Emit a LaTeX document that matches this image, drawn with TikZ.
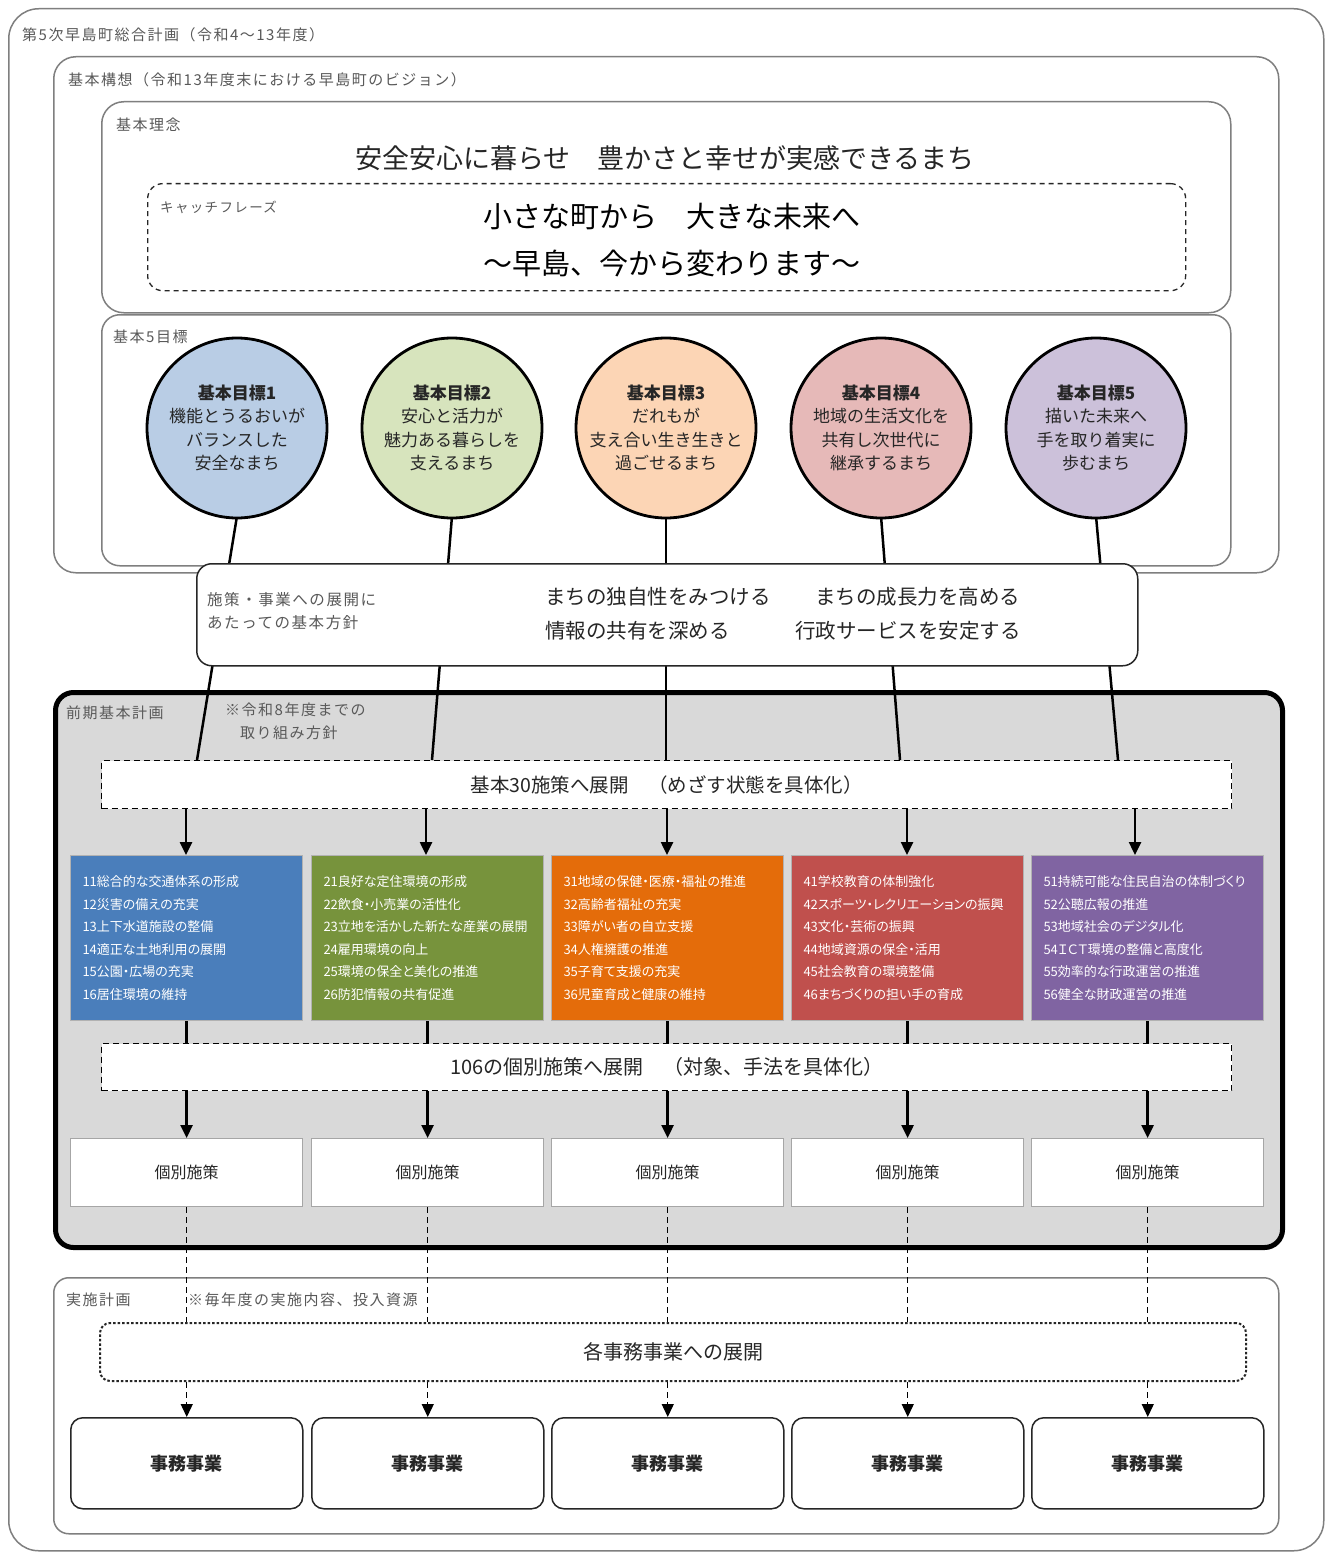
\documentclass[tikz,border=0pt]{standalone}
\usepackage{fontspec}
\setmainfont{Noto Sans CJK JP}
\newfontfamily\lblfont{Noto Sans CJK JP}[LetterSpace=10]
\newfontfamily\pfont{Noto Sans CJK JP}[CharacterWidth=AlternateProportional]
\usetikzlibrary{arrows.meta,calc}
\definecolor{framegray}{HTML}{7F7F7F}
\definecolor{lblgray}{HTML}{595959}
\definecolor{darkt}{HTML}{262626}
\definecolor{cblue}{HTML}{B9CDE5}
\definecolor{cgreen}{HTML}{D7E4BD}
\definecolor{corange}{HTML}{FCD5B5}
\definecolor{cred}{HTML}{E6B9B8}
\definecolor{cpurple}{HTML}{CCC1DA}
\definecolor{bblue}{HTML}{4A7EBB}
\definecolor{bgreen}{HTML}{77933C}
\definecolor{borange}{HTML}{E46C0A}
\definecolor{bred}{HTML}{C0504D}
\definecolor{bpurple}{HTML}{8064A2}
\definecolor{kgray}{HTML}{D9D9D9}
\begin{document}
\begin{tikzpicture}[x=1pt,y=-1pt,
  frame/.style={draw=framegray, line width=1.5pt, fill=white, inner sep=0pt, anchor=north west},
  lbl/.style={text=lblgray, font=\lblfont\fontsize{15}{17}\selectfont, anchor=west, inner sep=0pt},
  goal/.style={circle, draw=black, line width=2.8pt, minimum size=180pt, inner sep=0pt, align=center, font=\fontsize{17}{23.5}\selectfont, text=darkt},
  conn/.style={line width=2.5pt, draw=black},
  arr/.style={line width=2.5pt, draw=black, -{Triangle[length=13pt,width=12pt]}},
  dbox/.style={draw=black, dash pattern=on 6pt off 4pt, line width=1.3pt, fill=white, inner sep=0pt, anchor=north west, minimum width=1130pt, minimum height=48pt, text=darkt, font=\fontsize{19.5}{21}\selectfont},
  cbox/.style={draw=gray!60, line width=1pt, minimum width=232pt, minimum height=165pt, anchor=north west, text width=208pt, align=left, inner xsep=12pt, inner ysep=0pt, text=white, font=\pfont\fontsize{13}{22.5}\selectfont},
  kbox/.style={draw=gray!70, line width=1.2pt, fill=white, minimum width=232pt, minimum height=68pt, anchor=north west, inner sep=0pt, text=darkt, font=\fontsize{16}{18}\selectfont},
  jbox/.style={draw=darkt, line width=1.5pt, fill=white, rounded corners=12pt, minimum width=232pt, minimum height=91pt, anchor=north west, inner sep=0pt, text=darkt, font=\bfseries\fontsize{18}{20}\selectfont},
  dline/.style={line width=1.3pt, draw=black, dash pattern=on 6pt off 4pt},
  darr/.style={line width=1.3pt, draw=black, dash pattern=on 6pt off 4pt, -{Triangle[length=13pt,width=12pt]}},
  bandtxt/.style={text=darkt, font=\fontsize{20.5}{22}\selectfont, anchor=west, inner sep=0pt}
]
\useasboundingbox (0,0) rectangle (1330,1554);
\fill[white] (0,0) rectangle (1330,1554);

% outer frames
\node[frame, rounded corners=30pt, minimum width=1315pt, minimum height=1542pt] (outer) at (8,8) {};
\node[lbl] (outerT) at (22,35) {第5次早島町総合計画（令和4～13年度）};
\node[frame, rounded corners=22pt, minimum width=1225pt, minimum height=516pt] (kousou) at (53,56) {};
\node[lbl] (kousouT) at (68,80) {基本構想（令和13年度末における早島町のビジョン）};
\node[frame, rounded corners=22pt, minimum width=1129pt, minimum height=211pt] (rinen) at (101,101) {};
\node[lbl] (rinenT) at (116,125) {基本理念};
\node[text=darkt, font=\fontsize{27}{29}\selectfont, inner sep=0pt] (rinenM) at (665,158) {安全安心に暮らせ　豊かさと幸せが実感できるまち};
\node[frame, draw=darkt, dash pattern=on 5pt off 4pt, line width=1.3pt, rounded corners=15pt, minimum width=1038pt, minimum height=107pt] (catch) at (147,183) {};
\node[lbl, font=\lblfont\fontsize{13.5}{15}\selectfont] (catchT) at (160,207) {キャッチフレーズ};
\node[text=black, font=\fontsize{29}{31}\selectfont, inner sep=0pt] (catch1) at (672,216) {小さな町から　大きな未来へ};
\node[text=black, font=\fontsize{29}{31}\selectfont, inner sep=0pt] (catch2) at (672,263) {～早島、今から変わります～};
\node[frame, rounded corners=18pt, minimum width=1129pt, minimum height=251pt] (mokuhyo) at (101,314) {};
\node[lbl] (mokuhyoT) at (113,337) {基本5目標};

% plan box
\node[frame, draw=black, line width=5pt, rounded corners=18pt, fill=kgray, minimum width=1227pt, minimum height=555pt] (plan) at (53,690) {};
\node[lbl] (planT) at (66,713) {前期基本計画};
\node[lbl, align=left, anchor=north west, font=\lblfont\fontsize{15}{23}\selectfont] (planN) at (225,703) {※令和8年度までの\\\hspace{1em}取り組み方針};

% connector end points on the 30 box
\coordinate (t1) at (197,760);
\coordinate (t2) at (432,760);
\coordinate (t3) at (666,760);
\coordinate (t4) at (900,760);
\coordinate (t5) at (1118,760);

% circle positions
\coordinate (p1) at (237,428);
\coordinate (p2) at (452,428);
\coordinate (p3) at (666,428);
\coordinate (p4) at (881,428);
\coordinate (p5) at (1096,428);

\draw[conn] ($(p1)+(0,88)$) coordinate (s1) -- (t1);
\draw[conn] ($(p2)+(0,88)$) coordinate (s2) -- (t2);
\draw[conn] ($(p3)+(0,88)$) coordinate (s3) -- (t3);
\draw[conn] ($(p4)+(0,88)$) coordinate (s4) -- (t4);
\draw[conn] ($(p5)+(0,88)$) coordinate (s5) -- (t5);

\node[goal, fill=cblue] (c1) at (p1) {\textbf{基本目標1}\\機能とうるおいが\\バランスした\\安全なまち};
\node[goal, fill=cgreen] (c2) at (p2) {\textbf{基本目標2}\\安心と活力が\\魅力ある暮らしを\\支えるまち};
\node[goal, fill=corange] (c3) at (p3) {\textbf{基本目標3}\\だれもが\\支え合い生き生きと\\過ごせるまち};
\node[goal, fill=cred] (c4) at (p4) {\textbf{基本目標4}\\地域の生活文化を\\共有し次世代に\\継承するまち};
\node[goal, fill=cpurple] (c5) at (p5) {\textbf{基本目標5}\\描いた未来へ\\手を取り着実に\\歩むまち};

% band
\node[frame, draw=darkt, line width=1.5pt, rounded corners=15pt, minimum width=941pt, minimum height=102pt] (band) at (196,563) {};
\node[lbl, align=left, anchor=north west, font=\lblfont\fontsize{15.5}{23}\selectfont] (bandL) at (207,592) {施策・事業への展開に\\あたっての基本方針};
\node[bandtxt] (b1) at (545,597) {まちの独自性をみつける};
\node[bandtxt] (b2) at (545,631) {情報の共有を深める};
\node[bandtxt] (b3) at (815,597) {まちの成長力を高める};
\node[bandtxt] (b4) at (795,631) {行政サービスを安定する};

% 30 box
\node[dbox] (d30) at (101,760) {基本30施策へ展開　（めざす状態を具体化）};

% colored boxes
\node[cbox, fill=bblue] (g1) at (70,855) {11総合的な交通体系の形成\\12災害の備えの充実\\13上下水道施設の整備\\14適正な土地利用の展開\\15公園・広場の充実\\16居住環境の維持};
\node[cbox, fill=bgreen] (g2) at (311,855) {21良好な定住環境の形成\\22飲食・小売業の活性化\\23立地を活かした新たな産業の展開\\24雇用環境の向上\\25環境の保全と美化の推進\\26防犯情報の共有促進};
\node[cbox, fill=borange] (g3) at (551,855) {31地域の保健・医療・福祉の推進\\32高齢者福祉の充実\\33障がい者の自立支援\\34人権擁護の推進\\35子育て支援の充実\\36児童育成と健康の維持};
\node[cbox, fill=bred] (g4) at (791,855) {41学校教育の体制強化\\42スポーツ・レクリエーションの振興\\43文化・芸術の振興\\44地域資源の保全・活用\\45社会教育の環境整備\\46まちづくりの担い手の育成};
\node[cbox, fill=bpurple] (g5) at (1031,855) {51持続可能な住民自治の体制づくり\\52公聴広報の推進\\53地域社会のデジタル化\\54ＩＣＴ環境の整備と高度化\\55効率的な行政運営の推進\\56健全な財政運営の推進};

\coordinate (a1) at (186,808);
\coordinate (a2) at (426,808);
\coordinate (a3) at (667,808);
\coordinate (a4) at (907,808);
\coordinate (a5) at (1135,808);
\draw[arr] (a1) -- (a1 |- g1.north);
\draw[arr] (a2) -- (a2 |- g2.north);
\draw[arr] (a3) -- (a3 |- g3.north);
\draw[arr] (a4) -- (a4 |- g4.north);
\draw[arr] (a5) -- (a5 |- g5.north);

% 106 box
\node[dbox, minimum height=47pt, font=\fontsize{20}{22}\selectfont] (d106) at (101,1043) {106の個別施策へ展開　（対象、手法を具体化）};
\foreach \i in {1,...,5}{
  \draw[conn] (g\i.south) -- (g\i.south |- d106.north);
}

% individual policies
\node[kbox] (k1) at (70,1138) {個別施策};
\node[kbox] (k2) at (311,1138) {個別施策};
\node[kbox] (k3) at (551,1138) {個別施策};
\node[kbox] (k4) at (791,1138) {個別施策};
\node[kbox] (k5) at (1031,1138) {個別施策};
\foreach \i in {1,...,5}{
  \draw[arr] (k\i.north |- d106.south) -- (k\i.north);
}

% implementation plan
\node[frame, rounded corners=15pt, minimum width=1225pt, minimum height=256pt] (jisshi) at (53,1277) {};
\node[lbl] (jisshiT) at (66,1300) {実施計画};
\node[frame, draw=darkt, line width=2pt, dash pattern=on 2.5pt off 2pt, rounded corners=10pt, minimum width=1146pt, minimum height=58pt, font=\fontsize{20}{22}\selectfont, text=darkt] (dd) at (99,1322) {各事務事業への展開};
\foreach \i in {1,...,5}{
  \draw[dline] (k\i.south) -- (k\i.south |- dd.north);
}
\node[lbl] (jisshiN) at (188,1300) {※毎年度の実施内容、投入資源};

\node[jbox] (j1) at (70,1417) {事務事業};
\node[jbox] (j2) at (311,1417) {事務事業};
\node[jbox] (j3) at (551,1417) {事務事業};
\node[jbox] (j4) at (791,1417) {事務事業};
\node[jbox] (j5) at (1031,1417) {事務事業};
\foreach \i in {1,...,5}{
  \draw[darr] (j\i.north |- dd.south) -- (j\i.north);
}
\end{tikzpicture}
\end{document}
